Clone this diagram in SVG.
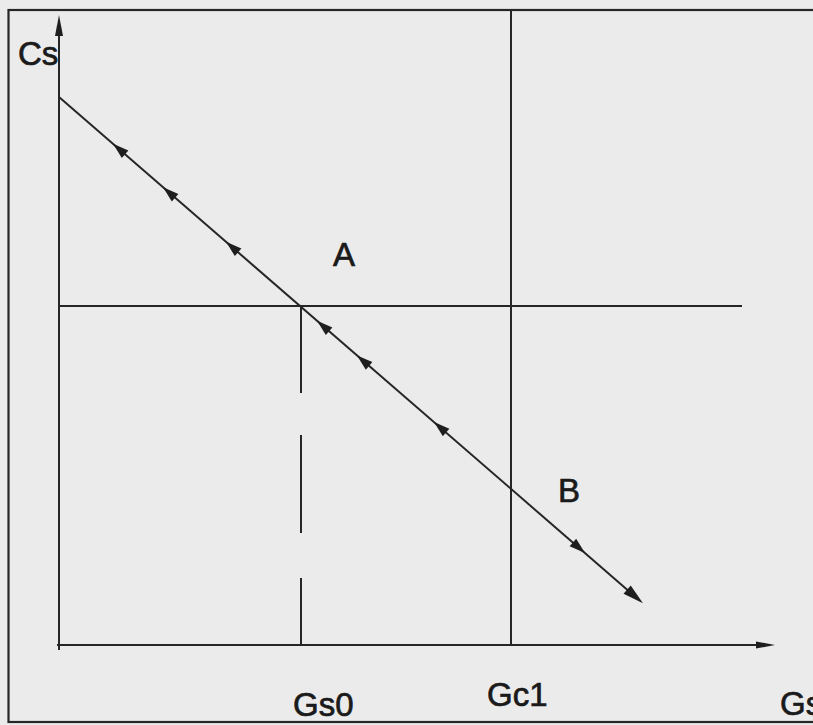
<svg xmlns="http://www.w3.org/2000/svg" xmlns:xlink="http://www.w3.org/1999/xlink" width="813" height="725" viewBox="0 0 813 725">
  <style>
    .ln { stroke: #262626; stroke-width: 2; fill: none; }
    .fr { stroke: #262626; stroke-width: 2.2; fill: none; }
    .ah { fill: #1e1e1e; }
    .lbl { font-family: "Liberation Sans", Arial, sans-serif; font-size: 33px; fill: #1a1a1a; stroke: #1a1a1a; stroke-width: 0.7; }
  </style>
  <defs>
    <path id="mid" d="M0,0 L-16,-5 L-16,5 Z"/>
    <path id="end" d="M0,0 L-21,-5.5 L-21,5.5 Z"/>
  </defs>
  <rect x="0" y="0" width="813" height="725" fill="#ebebeb"/>
  <rect class="fr" x="8.5" y="10" width="812" height="712"/>

  <g id="axes">
    <line class="ln" x1="59" y1="30" x2="59" y2="650"/>
    <path class="ah" d="M59,15 L55,36 L63,36 Z"/>
    <line class="ln" x1="57" y1="645" x2="760" y2="645"/>
    <path class="ah" d="M775,645 L756,641.5 L756,648.5 Z"/>
  </g>

  <g id="connectors">
    <line class="ln" x1="59" y1="306" x2="742" y2="306"/>
    <line class="ln" x1="511" y1="10" x2="511" y2="645"/>
    <line class="ln" x1="301" y1="306" x2="301" y2="393"/>
    <line class="ln" x1="301" y1="435" x2="301" y2="533"/>
    <line class="ln" x1="301" y1="578" x2="301" y2="645"/>
    <line class="ln" x1="59" y1="97" x2="635" y2="596.4"/>
    <g class="ah">
      <use xlink:href="#mid" transform="translate(113,143.8) rotate(220.9)"/>
      <use xlink:href="#mid" transform="translate(163,187.2) rotate(220.9)"/>
      <use xlink:href="#mid" transform="translate(226,241.8) rotate(220.9)"/>
      <use xlink:href="#mid" transform="translate(317,320.7) rotate(220.9)"/>
      <use xlink:href="#mid" transform="translate(357,355.4) rotate(220.9)"/>
      <use xlink:href="#mid" transform="translate(434,422.1) rotate(220.9)"/>
      <use xlink:href="#mid" transform="translate(585,553.0) rotate(40.9)"/>
      <use xlink:href="#end" transform="translate(643,603.3) rotate(40.9)"/>
    </g>
  </g>

  <g id="labels">
    <text id="label-cs" class="lbl" x="18" y="65">Cs</text>
    <text id="label-a" class="lbl" x="333" y="266">A</text>
    <text id="label-b" class="lbl" x="558" y="502">B</text>
    <text id="label-gs0" class="lbl" x="293" y="716">Gs0</text>
    <text id="label-gc1" class="lbl" x="487" y="706">Gc1</text>
    <text id="label-gs" class="lbl" x="780" y="715">Gs</text>
  </g>
</svg>
